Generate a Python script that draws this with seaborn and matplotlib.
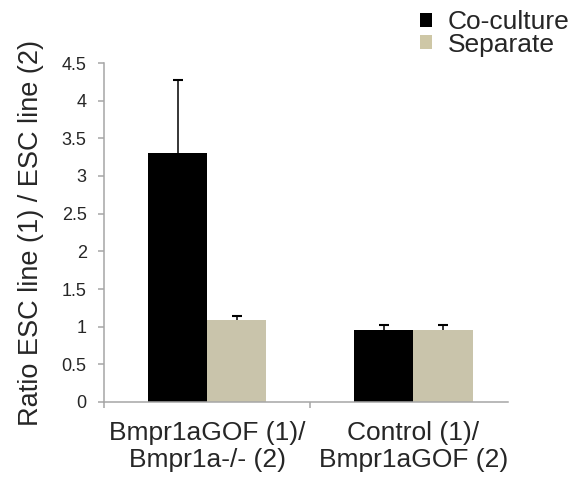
import numpy as np
import pandas as pd
import seaborn as sns
import matplotlib.pyplot as plt
from matplotlib.patches import Patch

# values
pairs = ["Bmpr1aGOF (1)/\nBmpr1a-/- (2)", "Control (1)/\nBmpr1aGOF (2)"]
conditions = ["Co-culture", "Separate"]
coculture = [3.31, 0.955]
separate = [1.09, 0.955]
coculture_err = [0.96, 0.065]
separate_err = [0.05, 0.065]

colors = ["#000000", "#CEC7A6"]
axis_grey = "#A6A6A6"

sns.set_style("white")
plt.rcParams["font.family"] = ["Liberation Sans", "DejaVu Sans"]

df = pd.DataFrame({
    "pair": pairs * 2,
    "condition": [conditions[0]] * 2 + [conditions[1]] * 2,
    "ratio": coculture + separate,
})
errs = {conditions[0]: coculture_err, conditions[1]: separate_err}

fig = plt.figure(figsize=(5.72, 4.79), dpi=100)
ax = fig.add_axes([104 / 572, 1 - 402 / 479, 404 / 572, 339 / 479])

sns.barplot(data=df, x="pair", y="ratio", hue="condition", order=pairs,
            hue_order=conditions, palette=colors, width=0.573, gap=0,
            errorbar=None, linewidth=0, legend=False, ax=ax)

# upper error bars only, as in the original
for cont, cond in zip(ax.containers, conditions):
    xs = [p.get_x() + p.get_width() / 2 for p in cont.patches]
    ys = [p.get_height() for p in cont.patches]
    eb = ax.errorbar(xs, ys, yerr=[np.zeros(len(ys)), errs[cond]], fmt="none",
                     ecolor="black", elinewidth=1.1, capsize=3.6, capthick=1.5,
                     zorder=3)
    eb[1][0].set_visible(False)  # hide lower cap

ax.set_ylim(0, 4.5)
ax.set_xlim(-0.5, 1.458)
ax.set_yticks(np.arange(0, 4.51, 0.5))
ax.set_yticklabels(["0", "0.5", "1", "1.5", "2", "2.5", "3", "3.5", "4", "4.5"])

for s in ["top", "right"]:
    ax.spines[s].set_visible(False)
for s in ["left", "bottom"]:
    ax.spines[s].set_color(axis_grey)
    ax.spines[s].set_linewidth(1.1)

ax.tick_params(axis="y", which="major", direction="out", length=4.5, width=1.1,
               color=axis_grey, labelsize=13, pad=8, left=True)
ax.set_xticks([0, 1])
ax.set_xticklabels(pairs, linespacing=1.15)
ax.set_xticks([-0.5, 0.5], minor=True)
ax.tick_params(axis="x", which="major", length=0, labelsize=19, pad=14)
ax.tick_params(axis="x", which="minor", direction="out", length=4.5, width=1.1,
               color=axis_grey, bottom=True)

ax.set_xlabel("")
ax.set_ylabel("Ratio ESC line (1) / ESC line (2)", fontsize=19.5, labelpad=13)

handles = [Patch(facecolor=c, edgecolor="none", label=l) for c, l in zip(colors, conditions)]
fig.legend(handles=handles, loc="upper left", bbox_to_anchor=(420 / 572, 1 - 10 / 479),
           frameon=False, fontsize=19, handlelength=0.45, handleheight=0.45,
           handletextpad=0.6, labelspacing=-0.05, borderpad=0, borderaxespad=0)

fig.savefig("out.png", dpi=100)
